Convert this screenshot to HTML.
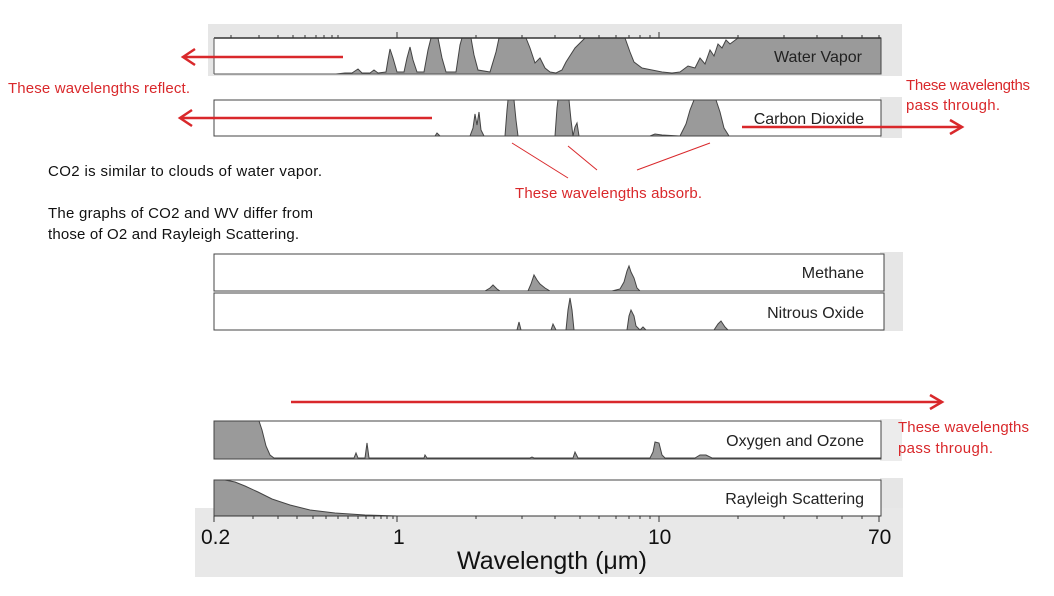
<!DOCTYPE html>
<html><head><meta charset="utf-8"><style>
body{margin:0;background:#fff;width:1054px;height:596px;overflow:hidden}
svg{display:block}
text{font-family:"Liberation Sans",sans-serif}
</style></head><body>
<svg width="1054" height="596" viewBox="0 0 1054 596" xmlns="http://www.w3.org/2000/svg">
<rect x="208" y="24" width="694" height="52" fill="#e6e6e6"/>
<rect x="880" y="97" width="22" height="41" fill="#e6e6e6"/>
<rect x="880" y="252" width="23" height="79" fill="#e6e6e6"/>
<rect x="880" y="419" width="22" height="42" fill="#ececec"/>
<rect x="880" y="478" width="23" height="40" fill="#e6e6e6"/>
<rect x="195" y="508" width="708" height="69" fill="#e8e8e8"/>

<g stroke="#444" stroke-width="1" fill="#9a9a9a">
<rect x="214" y="38" width="667" height="36" fill="#fff" stroke="none"/>
<path d="M336,74 L345,73 L352,73 L358,69 L362,73 L370,73 L374,70 L378,73 L386,72 L388,60 L390,49 L393,58 L397,72 L404,72 L407,58 L410,47 L413,60 L417,72 L424,72 L428,50 L431,38 L438,38 L442,58 L446,72 L456,72 L460,45 L462,38 L471,38 L474,55 L478,70 L490,72 L496,52 L499,38 L526,38 L530,48 L535,63 L540,58 L545,68 L550,72 L556,73 L562,70 L566,62 L575,48 L585,38 L625,38 L630,52 L634,62 L642,68 L652,70 L662,72 L672,73 L680,72 L688,66 L695,68 L700,58 L705,64 L710,50 L714,56 L718,44 L722,48 L726,40 L730,44 L738,38 L881,38 L881,74 Z"/>
<line x1="214" y1="38" x2="881" y2="38" stroke="#333" stroke-width="1.5"/>
<line x1="214" y1="74" x2="881" y2="74" stroke="#555"/>
<line x1="214" y1="38" x2="214" y2="74" stroke="#555"/>
<path d="M231,38v-3M259,38v-3M278,38v-3M293,38v-3M305,38v-3M316,38v-3M324,38v-3M332,38v-3M338,38v-3M397,38v-6M476,38v-3M522,38v-3M555,38v-3M580,38v-3M599,38v-3M616,38v-3M629,38v-3M640,38v-3M650,38v-3M659,38v-6M738,38v-3M784,38v-3M817,38v-3M842,38v-3M862,38v-3M879,38v-3" stroke="#333" fill="none"/>
<rect x="214" y="100" width="667" height="36" fill="#fff"/>
<path d="M435,136 L437,133 L440,136 L470,136 L473,128 L475,114 L477,125 L479,112 L481,130 L484,136 L505,136 L507,110 L508,100 L514,100 L516,120 L518,136 L555,136 L557,108 L558,100 L569,100 L571,120 L573,136 L575,127 L577,123 L579,136 L650,136 L655,134 L662,135 L680,136 L686,124 L690,110 L694,100 L716,100 L720,112 L724,128 L729,136 Z"/>
<rect x="214" y="254" width="670" height="37" fill="#fff"/>
<path d="M485,291 L490,288 L493,285 L497,289 L500,291 L528,291 L531,284 L534,275 L537,280 L540,284 L545,288 L550,291 L612,291 L620,289 L624,282 L627,271 L629,266 L631,272 L634,278 L637,288 L640,291 Z"/>
<rect x="214" y="293" width="670" height="37" fill="#fff"/>
<path d="M517,330 L519,322 L521,330 L551,330 L553,324 L556,330 L566,330 L568,310 L570,298 L572,310 L574,330 L627,330 L629,316 L631,310 L634,316 L636,326 L640,330 L643,327 L646,330 L714,330 L718,324 L721,321 L725,327 L728,330 Z"/>
<rect x="214" y="421" width="667" height="38" fill="#fff"/>
<path d="M214,459 L214,421 L259,421 L262,430 L266,446 L270,455 L274,458 L354,458 L356,453 L358,458 L365,458 L367,443 L369,458 L424,458 L425,455 L427,458 L530,458 L532,457 L534,458 L573,458 L575,452 L578,458 L650,458 L653,452 L655,442 L659,443 L662,455 L665,458 L695,458 L700,455 L706,455 L712,458 L881,458 L881,459 Z"/>
<rect x="214" y="480" width="667" height="36" fill="#fff"/>
<path d="M214,480 L225,480 L235,482 L245,486 L258,492 L272,499 L290,505 L310,510 L335,513 L365,515 L397,516 L214,516 Z"/>
</g>
<path d="M214,516v6M253,516v3M278,516v3M297,516v3M313,516v3M326,516v3M338,516v3M348,516v3M358,516v3M366,516v3M374,516v3M381,516v3M387,516v3M393,516v3M397,516v6M476,516v3M522,516v3M555,516v3M580,516v3M599,516v3M616,516v3M629,516v3M640,516v3M650,516v3M659,516v6M738,516v3M784,516v3M817,516v3M842,516v3M862,516v3M879,516v6" stroke="#333" fill="none"/>
<line x1="214" y1="516" x2="881" y2="516" stroke="#333"/>

<g font-size="16" fill="#222" text-anchor="end">
<text x="862" y="62">Water Vapor</text>
<text x="864" y="124">Carbon Dioxide</text>
<text x="864" y="278">Methane</text>
<text x="864" y="318">Nitrous Oxide</text>
<text x="864" y="446">Oxygen and Ozone</text>
<text x="864" y="504">Rayleigh Scattering</text>
</g>
<g font-size="21" fill="#111">
<text x="201" y="544">0.2</text>
<text x="393" y="544">1</text>
<text x="648" y="544">10</text>
<text x="868" y="544">70</text>
<text x="552" y="569" font-size="25" text-anchor="middle">Wavelength (μm)</text>
</g>

<g stroke="#d9282b" stroke-width="2.5" fill="none">
<line x1="343" y1="57" x2="183" y2="57"/><polyline points="195,49 183,57 195,65"/>
<line x1="432" y1="118" x2="180" y2="118"/><polyline points="192,110 180,118 192,126"/>
<line x1="742" y1="127" x2="960" y2="127"/><polyline points="950,120 962,127 950,134"/>
<line x1="291" y1="402" x2="940" y2="402"/><polyline points="930,395 942,402 930,409"/>
</g>
<g stroke="#d9282b" stroke-width="1">
<line x1="512" y1="143" x2="568" y2="178"/>
<line x1="568" y1="146" x2="597" y2="170"/>
<line x1="710" y1="143" x2="637" y2="170"/>
</g>
<g font-size="15" fill="#d9282b">
<text x="8" y="93" textLength="182">These wavelengths reflect.</text>
<text x="906" y="90" textLength="124">These wavelengths</text>
<text x="906" y="110" textLength="94">pass through.</text>
<text x="515" y="198" textLength="187">These wavelengths absorb.</text>
<text x="898" y="432" textLength="131">These wavelengths</text>
<text x="898" y="453" textLength="95">pass through.</text>
</g>
<g font-size="15" fill="#111">
<text x="48" y="176" textLength="274">CO2 is similar to clouds of water vapor.</text>
<text x="48" y="218" textLength="265">The graphs of CO2 and WV differ from</text>
<text x="48" y="239" textLength="251">those of O2 and Rayleigh Scattering.</text>
</g>
</svg>
</body></html>
